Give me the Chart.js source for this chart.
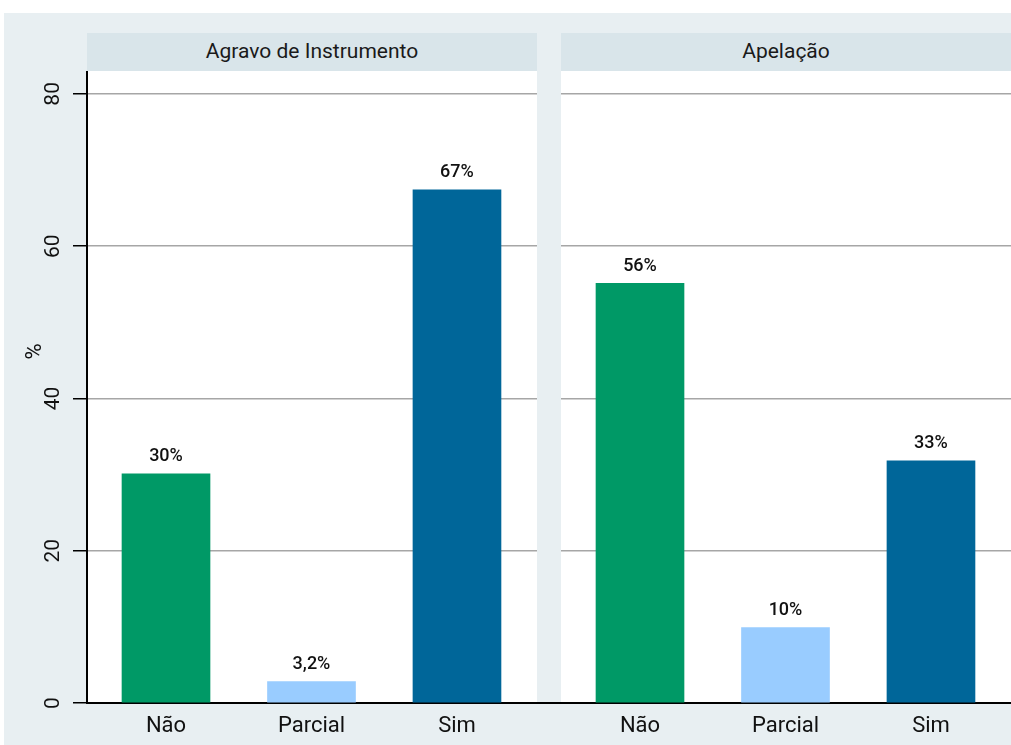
<!DOCTYPE html>
<html>
<head>
<meta charset="utf-8">
<script src="https://cdn.jsdelivr.net/npm/chart.js@4"></script>
<style>
  body { margin: 0; background: #fff; font-family: Roboto, sans-serif; }
  #wrap { position: relative; width: 1011px; height: 745px; overflow: hidden; }
  #bg { position: absolute; left: 4px; top: 13px; width: 1007px; height: 732px; background: #e8eff2; }
  .head { position: absolute; top: 33px; height: 38px; background: #d9e5ea; color: #1a1a1a;
          font-size: 21px; line-height: 37px; text-align: center; }
  .plot { position: absolute; top: 71px; height: 632px; background: #fff; }
  .box { position: absolute; top: 71px; height: 669px; }
  #gapline { position: absolute; left: 537px; top: 702px; width: 24px; height: 2px; background: #000; }
</style>
</head>
<body>
<div id="wrap">
  <div id="bg"></div>
  <div class="head" style="left:87px;width:450px;">Agravo de Instrumento</div>
  <div class="head" style="left:561px;width:450px;">Apelação</div>
  <div class="plot" style="left:87px;width:450px;"></div>
  <div class="plot" style="left:561px;width:450px;"></div>
  <div class="box" style="left:0;width:537px;"><canvas id="c1"></canvas></div>
  <div class="box" style="left:561px;width:450px;"><canvas id="c2"></canvas></div>
  <div id="gapline"></div>
</div>
<script>
// categorias e valores (percentual)
const categorias = ['Não', 'Parcial', 'Sim'];
const agravo = [30.1, 2.8, 67.4];
const agravoRotulos = ['30%', '3,2%', '67%'];
const apelacao = [55.1, 9.9, 31.8];
const apelacaoRotulos = ['56%', '10%', '33%'];
const cores = ['#009966', '#99ccff', '#006699'];
const yTicks = [0, 20, 40, 60, 80];

// rótulos em cima das barras
const rotulosPlugin = {
  id: 'rotulos',
  afterDatasetsDraw(chart, args, opts) {
    const ctx = chart.ctx;
    const meta = chart.getDatasetMeta(0);
    ctx.save();
    ctx.font = '500 18px Roboto';
    ctx.fillStyle = '#111';
    ctx.textAlign = 'center';
    ctx.textBaseline = 'middle';
    meta.data.forEach((bar, i) => {
      ctx.fillText(opts.textos[i], bar.x, bar.y - 17);
    });
    ctx.restore();
  }
};

function semPadding(axis) {
  axis.paddingTop = 0;
  axis.paddingBottom = 0;
  axis.paddingLeft = 0;
  axis.paddingRight = 0;
}

function criarGrafico(id, valores, textos, comEixoY) {
  const ctx = document.getElementById(id).getContext('2d');
  return new Chart(ctx, {
    type: 'bar',
    data: {
      datasets: [{
        data: valores.map((v, i) => ({ x: i, y: v })),
        backgroundColor: cores,
        barThickness: 88
      }]
    },
    plugins: [rotulosPlugin],
    options: {
      responsive: true,
      maintainAspectRatio: false,
      animation: false,
      layout: { padding: 0 },
      plugins: {
        legend: { display: false },
        tooltip: { enabled: false },
        rotulos: { textos: textos }
      },
      scales: {
        x: {
          type: 'linear',
          offset: false,
          min: -0.543,
          max: 2.55,
          afterBuildTicks: axis => { axis.ticks = categorias.map((c, i) => ({ value: i })); },
          afterFit: axis => { axis.height = 37; semPadding(axis); },
          ticks: {
            callback: v => categorias[v],
            font: { family: 'Roboto', size: 22 },
            color: '#111',
            padding: 10,
            maxRotation: 0
          },
          grid: { display: false, drawTicks: false },
          border: { display: true, color: '#000', width: 2 }
        },
        y: {
          min: 0,
          max: 83,
          afterBuildTicks: axis => { axis.ticks = yTicks.map(v => ({ value: v })); },
          afterFit: axis => { axis.width = comEixoY ? 87 : 0; semPadding(axis); },
          ticks: {
            display: comEixoY,
            font: { family: 'Roboto', size: 21 },
            color: '#111',
            minRotation: 90,
            maxRotation: 90,
            crossAlign: 'center',
            padding: 7
          },
          title: {
            display: comEixoY,
            // espaços à esquerda sobem o "%" como no original
            text: '\u00a0'.repeat(13) + '%',
            font: { family: 'Roboto', size: 22 },
            color: '#111',
            padding: { top: 22, bottom: 0 }
          },
          grid: {
            color: ctx => ctx.tick && ctx.tick.value === 0 ? 'rgba(0,0,0,0)' : '#a6a6a6',
            lineWidth: 1.5,
            drawTicks: comEixoY,
            tickLength: 14,
            tickColor: '#000'
          },
          border: { display: comEixoY, color: '#000', width: 2 }
        }
      }
    }
  });
}

criarGrafico('c1', agravo, agravoRotulos, true);
criarGrafico('c2', apelacao, apelacaoRotulos, false);
</script>
</body>
</html>
